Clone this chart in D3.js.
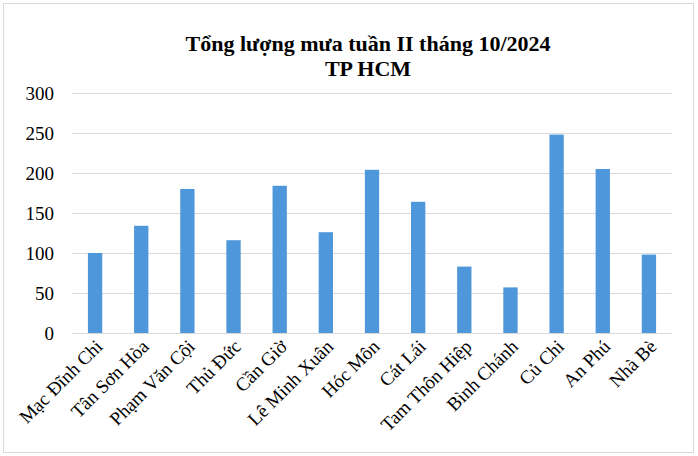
<!DOCTYPE html>
<html>
<head>
<meta charset="utf-8">
<script src="https://cdn.jsdelivr.net/npm/d3@7/dist/d3.min.js"></script>
<style>
  body { margin: 0; background: #fff; }
  svg { display: block; }
</style>
</head>
<body>
<svg id="chart" width="698" height="456"></svg>
<script>
// rainfall totals, week II of Oct 2024, HCMC
const stations = ["Mạc Đĩnh Chi", "Tân Sơn Hòa", "Phạm Văn Cội", "Thủ Đức", "Cần Giờ", "Lê Minh Xuân",
  "Hóc Môn", "Cát Lái", "Tam Thôn Hiệp", "Bình Chánh", "Củ Chi", "An Phú", "Nhà Bè"];
const rainfall = [100, 134, 180, 116, 184, 126, 204, 164, 83, 57, 248, 205, 98];
const yTicks = [0, 50, 100, 150, 200, 250, 300];
const titleLines = ["Tổng lượng mưa tuần II tháng 10/2024", "TP HCM"];

const margin = {top: 93, right: 26, bottom: 123, left: 72};
const width = 698, height = 456;
const w = width - margin.left - margin.right;
const h = height - margin.top - margin.bottom;

const svg = d3.select("#chart");

// outer frame
svg.append("rect")
  .attr("x", 3.5).attr("y", 3.5)
  .attr("width", 690).attr("height", 449)
  .attr("fill", "#fff")
  .attr("stroke", "#d9d9d9")
  .attr("stroke-width", 1);

svg.append("text")
  .attr("x", 368)
  .attr("y", 51)
  .attr("text-anchor", "middle")
  .style("font-family", "'Liberation Serif', 'Times New Roman', serif")
  .style("font-weight", "bold")
  .style("font-size", "22px")
  .selectAll("tspan")
  .data(titleLines)
  .enter()
  .append("tspan")
  .attr("x", 368)
  .attr("dy", (d, i) => i === 0 ? 0 : 25)
  .text(d => d);

const g = svg.append("g")
  .attr("transform", "translate(" + margin.left + "," + margin.top + ")");

const x = d3.scaleBand()
  .domain(stations)
  .range([0, w])
  .paddingInner(0.69)
  .paddingOuter(0.345);

const y = d3.scaleLinear()
  .domain([0, 300])
  .range([h, 0]);

// gridlines + y labels
const yAxis = g.append("g")
  .attr("class", "axis axis--y")
  .call(d3.axisLeft(y).tickValues(yTicks).tickSize(-w).tickPadding(18));
yAxis.select(".domain").remove();
yAxis.selectAll(".tick line")
  .attr("stroke", "#d9d9d9")
  .attr("stroke-width", 1.2);
yAxis.selectAll(".tick text")
  .attr("fill", "#000")
  .style("font-family", "'Liberation Serif', 'Times New Roman', serif")
  .style("font-size", "19px");

g.selectAll("rect.bar")
  .data(rainfall)
  .enter()
  .append("rect")
  .attr("class", "bar")
  .attr("x", (d, i) => x(stations[i]))
  .attr("width", x.bandwidth())
  .attr("y", d => y(d))
  .attr("height", d => h - y(d))
  .attr("fill", "#4e97da");

// category labels, rotated
const xAxis = g.append("g")
  .attr("class", "axis axis--x")
  .attr("transform", "translate(0," + h + ")")
  .call(d3.axisBottom(x).tickSize(0).tickPadding(0));
xAxis.select(".domain").remove();
xAxis.selectAll(".tick text")
  .attr("fill", "#000")
  .attr("text-anchor", "end")
  .attr("dy", "0.35em")
  .attr("transform", "translate(4,10) rotate(-45)")
  .attr("y", 0)
  .style("font-family", "'Liberation Serif', 'Times New Roman', serif")
  .style("font-size", "19px");
</script>
</body>
</html>
